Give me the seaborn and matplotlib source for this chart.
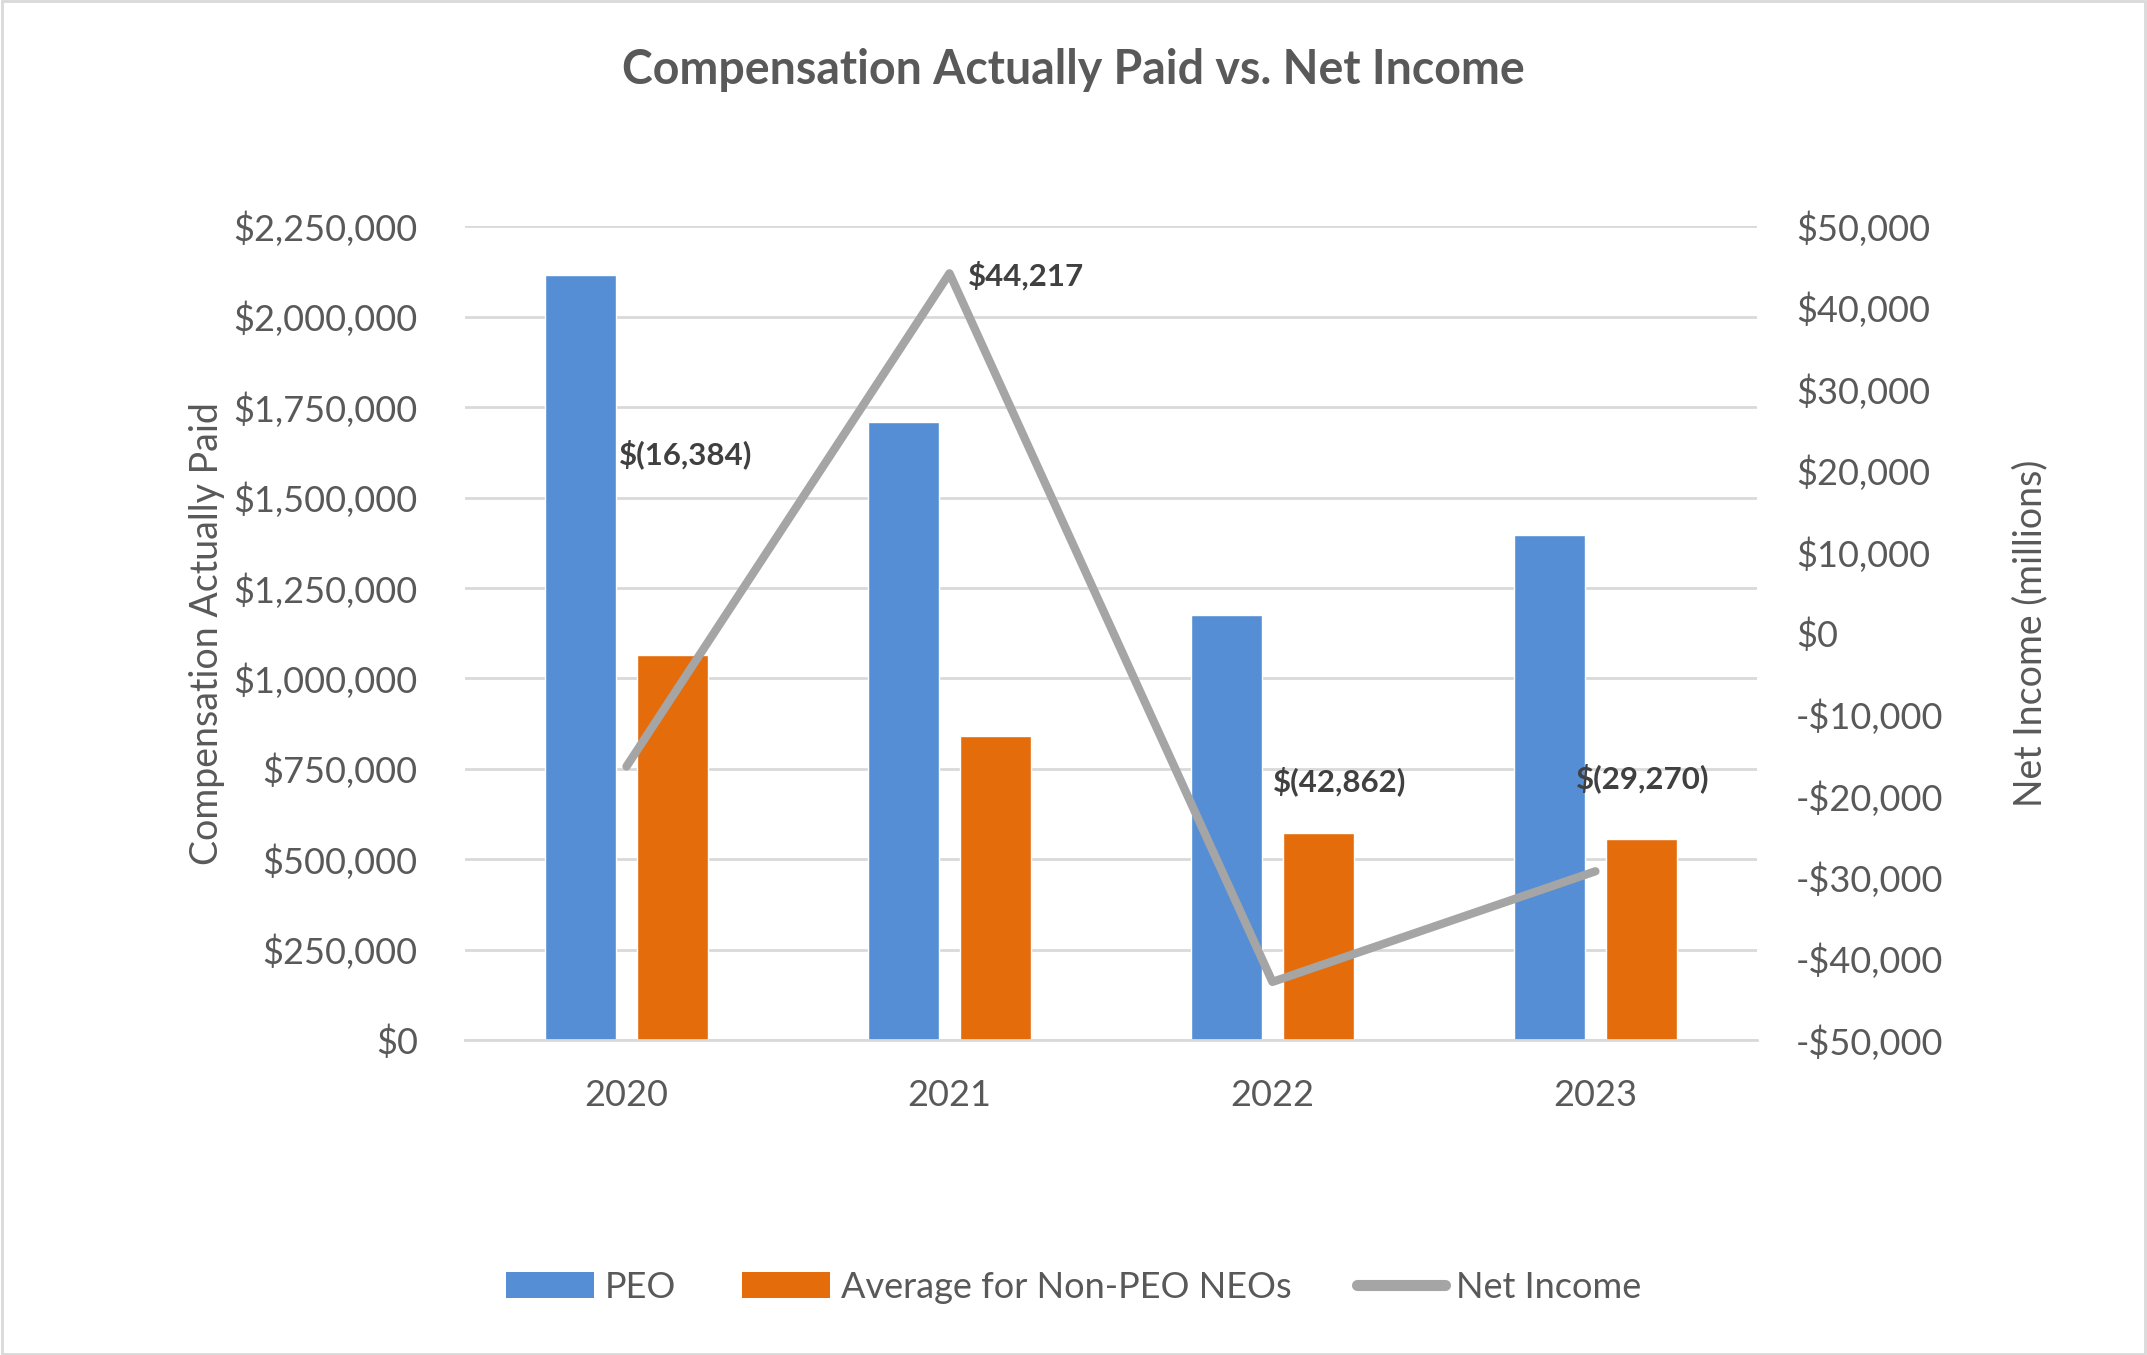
import matplotlib

matplotlib.use("Agg")
import matplotlib.pyplot as plt
import numpy as np
import pandas as pd
import seaborn as sns
from matplotlib.lines import Line2D
from matplotlib.patches import Patch, Rectangle
from matplotlib.ticker import FuncFormatter, MultipleLocator

years = ["2020", "2021", "2022", "2023"]
peo_cap = [2115000, 1708000, 1175000, 1397000]
non_peo_cap = [1065000, 840000, 572000, 557000]
net_income = [-16384, 44217, -42862, -29270]
net_labels = ["$(16,384)", "$44,217", "$(42,862)", "$(29,270)"]
series_names = ["PEO", "Average for Non-PEO NEOs"]

BLUE = "#558ED5"
ORANGE = "#E46C0A"
GREY_LINE = "#A5A5A5"
GRID = "#D9D9D9"
TEXT = "#595959"
LABEL = "#404040"

sns.set_theme(style="white")
plt.rcParams["font.family"] = ["Lato", "DejaVu Sans"]

df = pd.DataFrame(
    {
        "year": years * 2,
        "value": peo_cap + non_peo_cap,
        "series": [series_names[0]] * 4 + [series_names[1]] * 4,
    }
)

fig = plt.figure(figsize=(21.47, 13.55), dpi=100)
ax = fig.add_axes([0.2166, 0.2325, 0.6017, 0.6005])

sns.barplot(
    data=df,
    x="year",
    y="value",
    hue="series",
    order=years,
    hue_order=series_names,
    palette=[BLUE, ORANGE],
    width=0.57,
    gap=0.23,
    saturation=1,
    legend=False,
    ax=ax,
    zorder=2,
)
ax.set_xlim(-0.5, 3.5)
ax.set_ylim(0, 2250000)
ax.yaxis.set_major_locator(MultipleLocator(250000))
ax.yaxis.set_major_formatter(FuncFormatter(lambda v, p: f"${v:,.0f}"))
ax.grid(axis="y", color=GRID, linewidth=2, zorder=0)
ax.set_axisbelow(True)
for s in ["top", "right", "left"]:
    ax.spines[s].set_visible(False)
ax.spines["bottom"].set_color(GRID)
ax.spines["bottom"].set_linewidth(2)
ax.tick_params(axis="both", length=0, labelsize=26, colors=TEXT, pad=34)
ax.tick_params(axis="x", pad=28)
ax.set_xlabel("")
ax.set_ylabel("Compensation Actually Paid", fontsize=27, color=TEXT, labelpad=6)

ax2 = ax.twinx()
sns.lineplot(
    x=years,
    y=net_income,
    color=GREY_LINE,
    linewidth=6,
    ax=ax2,
    zorder=3,
)
ax2.set_xlim(-0.5, 3.5)
ax2.set_ylim(-50000, 50000)
ax2.yaxis.set_major_locator(MultipleLocator(10000))
ax2.yaxis.set_major_formatter(
    FuncFormatter(lambda v, p: f"${v:,.0f}" if v >= 0 else f"-${-v:,.0f}")
)
for s in ax2.spines.values():
    s.set_visible(False)
ax2.tick_params(axis="y", length=0, labelsize=26, colors=TEXT, pad=28)
ax2.set_ylabel("Net Income (millions)", fontsize=27, color=TEXT, labelpad=50)
ax2.grid(False)

offsets = [(-8, 312), (18, -3), (0, 201), (-19, 93)]
for i, (val, lab) in enumerate(zip(net_income, net_labels)):
    ax2.annotate(
        lab,
        xy=(i, val),
        xytext=offsets[i],
        textcoords="offset pixels",
        ha="left",
        va="center",
        fontsize=22.5,
        fontweight="bold",
        color=LABEL,
        zorder=5,
    )

fig.suptitle(
    "Compensation Actually Paid vs. Net Income",
    x=0.5,
    y=0.948,
    va="center",
    fontsize=33.5,
    fontweight="bold",
    color=TEXT,
)

handles = [
    Patch(facecolor=BLUE, edgecolor="none"),
    Patch(facecolor=ORANGE, edgecolor="none"),
    Line2D([0], [0], color=GREY_LINE, linewidth=8, solid_capstyle="round"),
]
fig.legend(
    handles,
    ["PEO", "Average for Non-PEO NEOs", "Net Income"],
    loc="center",
    bbox_to_anchor=(0.5, 0.05),
    ncol=3,
    frameon=False,
    fontsize=26,
    labelcolor=TEXT,
    handlelength=2.45,
    handleheight=0.7,
    handletextpad=0.3,
    columnspacing=1.8,
)

fig.patches.append(
    Rectangle(
        (0.001, 0.001),
        0.998,
        0.998,
        transform=fig.transFigure,
        fill=False,
        edgecolor="#D9D9D9",
        linewidth=2,
    )
)

fig.savefig("out.png", dpi=100)
